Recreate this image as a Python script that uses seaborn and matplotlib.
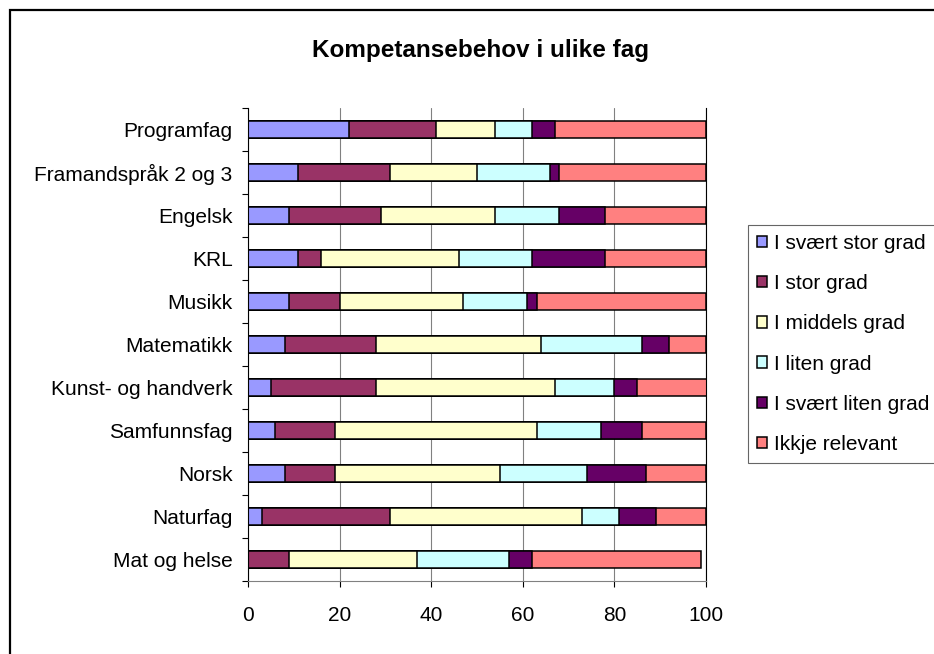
import numpy as np
import pandas as pd
import matplotlib
matplotlib.use("Agg")
import matplotlib.pyplot as plt
import seaborn as sns
from matplotlib.patches import Rectangle, Patch

# ---- data ----
categories = ["Programfag", "Framandspråk 2 og 3", "Engelsk", "KRL", "Musikk",
              "Matematikk", "Kunst- og handverk", "Samfunnsfag", "Norsk",
              "Naturfag", "Mat og helse"]
series_names = ["I svært stor grad", "I stor grad", "I middels grad",
                "I liten grad", "I svært liten grad", "Ikkje relevant"]
svaert_stor = [22, 11, 9, 11, 9, 8, 5, 6, 8, 3, 0]
stor = [19, 20, 20, 5, 11, 20, 23, 13, 11, 28, 9]
middels = [13, 19, 25, 30, 27, 36, 39, 44, 36, 42, 28]
liten = [8, 16, 14, 16, 14, 22, 13, 14, 19, 8, 20]
svaert_liten = [5, 2, 10, 16, 2, 6, 5, 9, 13, 8, 5]
ikkje_relevant = [33, 32, 22, 22, 37, 8, 16, 14, 13, 11, 37]
x_ticks = [0, 20, 40, 60, 80, 100]
title = "Kompetansebehov i ulike fag"

colors = ["#9999FF", "#993366", "#FFFFCC", "#CCFFFF", "#660066", "#FF8080"]

sns.set_style("white")
plt.rcParams["font.family"] = ["Liberation Sans", "DejaVu Sans"]
plt.rcParams["text.color"] = "black"
plt.rcParams["axes.labelcolor"] = "black"
plt.rcParams["xtick.color"] = "black"
plt.rcParams["ytick.color"] = "black"

W, H = 934, 654
fig = plt.figure(figsize=(W / 100, H / 100), dpi=100)
ax = fig.add_axes([248 / W, 1 - 581 / H, (706 - 248) / W, (581 - 108) / H])

series = [svaert_stor, stor, middels, liten, svaert_liten, ikkje_relevant]
cum = np.cumsum(np.array(series, dtype=float), axis=0)
for i in range(len(series) - 1, -1, -1):
    df = pd.DataFrame({"Fag": categories, "Verdi": cum[i]})
    sns.barplot(data=df, x="Verdi", y="Fag", order=categories, orient="h",
                color=colors[i], saturation=1, edgecolor="black",
                linewidth=1.1, width=0.39, errorbar=None, ax=ax)

ax.set_xlim(0, 100)
ax.set_ylim(len(categories) - 0.5, -0.5)
ax.set_xticks(x_ticks)
ax.set_xlabel("")
ax.set_ylabel("")
ax.set_yticks(np.arange(len(categories) + 1) - 0.5, minor=True)
ax.tick_params(axis="y", which="major", left=True, length=0, pad=11,
               labelsize=15, labelcolor="black")
ax.tick_params(axis="y", which="minor", left=True, length=4.3, width=0.8,
               color="black", direction="out")
ax.tick_params(axis="x", which="major", bottom=True, length=4.3, width=0.8,
               color="black", direction="out", pad=14, labelsize=15,
               labelcolor="black")
ax.xaxis.grid(True, color="#808080", linewidth=0.8)
ax.yaxis.grid(False)
ax.set_axisbelow(True)
ax.spines["top"].set_visible(False)
ax.spines["right"].set_color("black")
ax.spines["right"].set_linewidth(0.8)
ax.spines["left"].set_color("black")
ax.spines["left"].set_linewidth(0.8)
ax.spines["bottom"].set_color("#808080")
ax.spines["bottom"].set_linewidth(0.8)

handles = [Patch(facecolor=c, edgecolor="black", linewidth=1.1, label=n)
           for c, n in zip(colors, series_names)]
leg = fig.legend(handles=handles, loc="upper left",
                 bbox_to_anchor=(748 / W, 1 - 225 / H), frameon=True,
                 fancybox=False, edgecolor="#404040", fontsize=15,
                 handlelength=0.48, handleheight=0.48, handletextpad=0.33,
                 labelspacing=1.02, borderpad=0.42, borderaxespad=0)
leg.get_frame().set_linewidth(0.8)
for t in leg.get_texts():
    t.set_color("black")

fig.text(480 / W, 1 - 51 / H, title, ha="center", va="center",
         fontsize=17.5, fontweight="bold", color="black")

fig.add_artist(Rectangle((10 / W, -0.1), 1.2, 1 - 10 / H + 0.1,
                         transform=fig.transFigure, fill=False,
                         edgecolor="black", linewidth=1.6))

fig.savefig("out.png", dpi=100)
